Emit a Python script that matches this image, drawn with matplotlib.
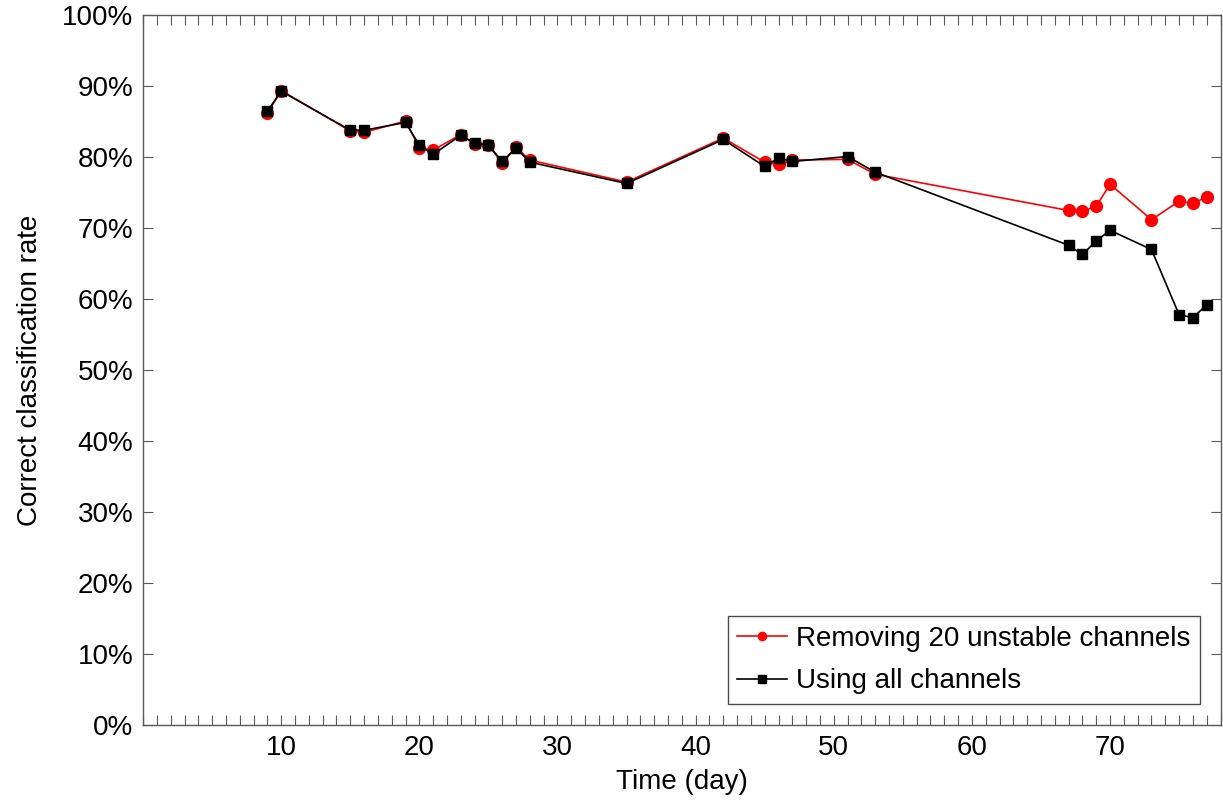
import numpy as np
import matplotlib.pyplot as plt
from matplotlib.ticker import MultipleLocator, FuncFormatter

plt.rcParams['font.family'] = ['Liberation Sans', 'DejaVu Sans']

days = [9, 10, 15, 16, 19, 20, 21, 23, 24, 25, 26, 27, 28, 35, 42, 45, 46, 47,
        51, 53, 67, 68, 69, 70, 73, 75, 76, 77]
removing = [86.2, 89.4, 83.7, 83.5, 85.1, 81.3, 81.0, 83.2, 81.8, 81.7, 79.2,
            81.4, 79.6, 76.5, 82.7, 79.3, 79.0, 79.6, 79.7, 77.6, 72.5, 72.4,
            73.1, 76.2, 71.2, 73.8, 73.5, 74.4]
all_ch = [86.5, 89.3, 83.8, 83.8, 84.9, 81.7, 80.4, 83.1, 82.0, 81.7, 79.4,
          81.3, 79.3, 76.3, 82.5, 78.7, 79.9, 79.4, 80.1, 77.9, 67.6, 66.3,
          68.2, 69.7, 67.0, 57.8, 57.4, 59.2]

fs = 20

fig = plt.figure(figsize=(12.23, 8.05), dpi=100)
ax = fig.add_axes([0.117, 0.0994, 0.881, 0.8816])

ax.plot(days, np.array(removing) / 100, color='red', marker='o', markersize=8.5,
        linewidth=1.2, label='Removing 20 unstable channels')
ax.plot(days, np.array(all_ch) / 100, color='black', marker='s', markersize=7.5,
        linewidth=1.2, label='Using all channels')

ax.set_xlim(0, 78)
ax.set_ylim(0, 1)
ax.xaxis.set_major_locator(MultipleLocator(10))
ax.xaxis.set_minor_locator(MultipleLocator(1))
ax.yaxis.set_major_locator(MultipleLocator(0.1))
ax.yaxis.set_major_formatter(FuncFormatter(lambda v, p: '%d%%' % round(v * 100)))
ax.set_xticks([10, 20, 30, 40, 50, 60, 70])

ax.tick_params(which='both', direction='in', top=True, right=True,
               length=7, width=0.8, color='0.35', labelsize=fs, pad=7)
for s in ax.spines.values():
    s.set_color('0.35')
    s.set_linewidth(1)

ax.set_xlabel('Time (day)', fontsize=fs, labelpad=6)
ax.set_ylabel('Correct classification rate', fontsize=fs, labelpad=14)

leg = ax.legend(loc='lower right', fontsize=fs, fancybox=False,
                framealpha=1, edgecolor='0.3', handlelength=1.8,
                handletextpad=0.3, borderpad=0.35, labelspacing=0.6,
                markerscale=0.7, borderaxespad=0.75)
leg.get_frame().set_linewidth(1)

plt.savefig('out.png', dpi=100)
